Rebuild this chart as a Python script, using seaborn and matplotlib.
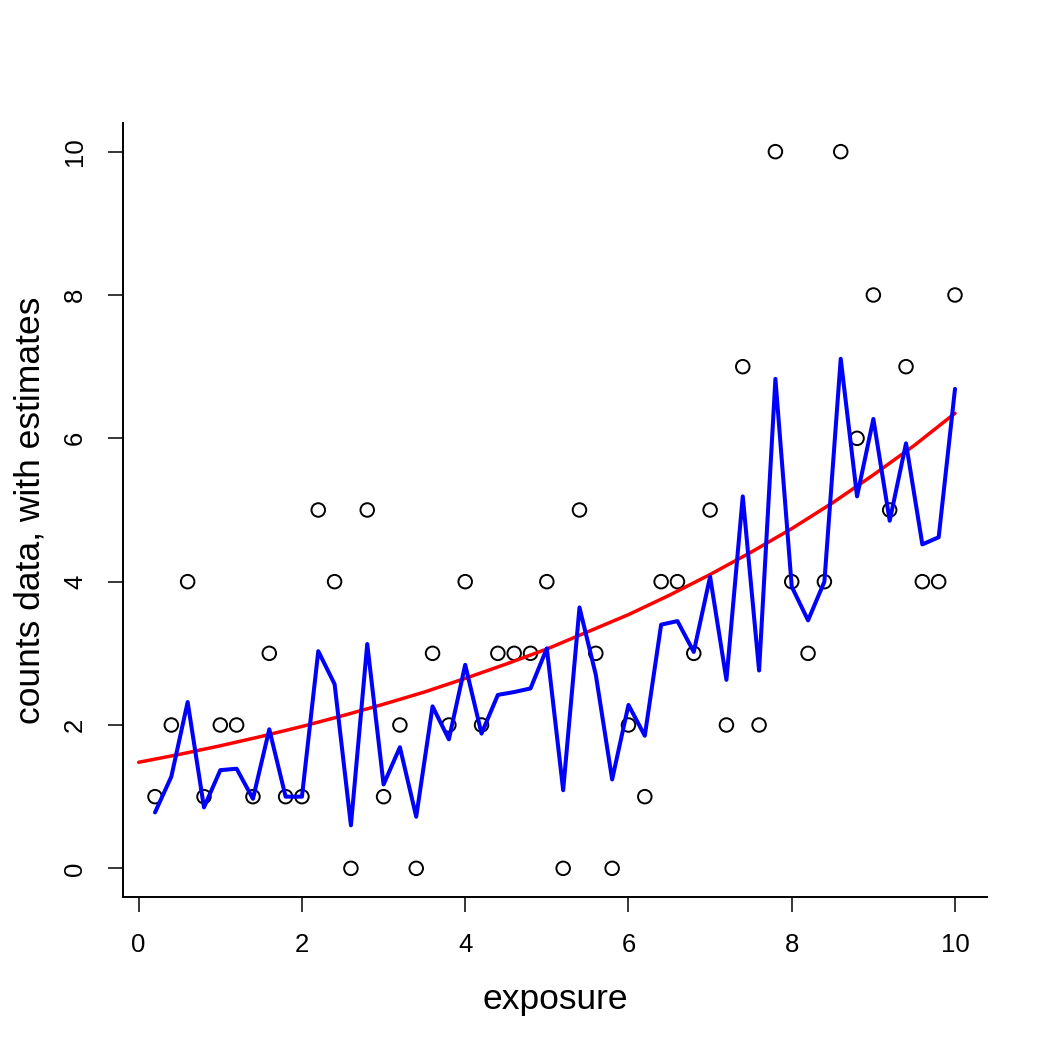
import numpy as np
import pandas as pd
import matplotlib
matplotlib.use("Agg")
import matplotlib.pyplot as plt
import seaborn as sns

# Observed counts against exposure
exposure = [0.2, 0.4, 0.6, 0.8, 1.0, 1.2, 1.4, 1.6, 1.8, 2.0,
            2.2, 2.4, 2.6, 2.8, 3.0, 3.2, 3.4, 3.6, 3.8, 4.0,
            4.2, 4.4, 4.6, 4.8, 5.0, 5.2, 5.4, 5.6, 5.8, 6.0,
            6.2, 6.4, 6.6, 6.8, 7.0, 7.2, 7.4, 7.6, 7.8, 8.0,
            8.2, 8.4, 8.6, 8.8, 9.0, 9.2, 9.4, 9.6, 9.8, 10.0]
counts = [1, 2, 4, 1, 2, 2, 1, 3, 1, 1,
          5, 4, 0, 5, 1, 2, 0, 3, 2, 4,
          2, 3, 3, 3, 4, 0, 5, 3, 0, 2,
          1, 4, 4, 3, 5, 2, 7, 2, 10, 4,
          3, 4, 10, 6, 8, 5, 7, 4, 4, 8]

# Per-observation estimates (blue)
estimates = [0.78, 1.28, 2.32, 0.85, 1.37, 1.39, 0.97, 1.94, 1.00, 1.00,
             3.03, 2.57, 0.60, 3.13, 1.17, 1.69, 0.72, 2.26, 1.80, 2.84,
             1.88, 2.42, 2.46, 2.51, 3.07, 1.09, 3.64, 2.70, 1.24, 2.28,
             1.85, 3.40, 3.45, 3.02, 4.07, 2.63, 5.19, 2.76, 6.83, 3.93,
             3.46, 4.00, 7.11, 5.19, 6.27, 4.85, 5.93, 4.52, 4.62, 6.69]

# Smooth trend (red)
trend_x = [0.0, 0.5, 1.0, 1.5, 2.0, 2.5, 3.0, 3.5, 4.0, 4.5, 5.0,
           5.5, 6.0, 6.5, 7.0, 7.5, 8.0, 8.5, 9.0, 9.5, 10.0]
trend_y = [1.48, 1.59, 1.71, 1.84, 1.98, 2.13, 2.29, 2.46, 2.65, 2.85, 3.06,
           3.30, 3.54, 3.81, 4.10, 4.41, 4.74, 5.10, 5.49, 5.90, 6.35]

df = pd.DataFrame({"exposure": exposure, "counts": counts, "est": estimates})
trend = pd.DataFrame({"x": trend_x, "y": trend_y})

sns.set_theme(style="ticks")
plt.rcParams["font.family"] = ["Liberation Sans", "DejaVu Sans"]

fig = plt.figure(figsize=(10.5, 10.5), dpi=100)
ax = fig.add_axes([123 / 1050, 153 / 1050, 864 / 1050, 774 / 1050])

sns.scatterplot(data=df, x="exposure", y="counts", ax=ax, s=95,
                facecolor="none", edgecolor="black", linewidth=1.4, zorder=2)
sns.lineplot(data=trend, x="x", y="y", ax=ax, color="#ff0000", lw=2.5,
             zorder=3, estimator=None)
sns.lineplot(data=df, x="exposure", y="est", ax=ax, color="#0000ff", lw=2.9,
             zorder=4, estimator=None)

ax.set_xlim(-0.192, 10.392)
ax.set_ylim(-0.4, 10.4)
ax.set_xticks([0, 2, 4, 6, 8, 10])
ax.set_yticks([0, 2, 4, 6, 8, 10])
ax.tick_params(axis="both", direction="out", length=10.8, width=1.1,
               labelsize=18.5, pad=15, color="black", labelcolor="black")
for lab in ax.get_yticklabels():
    lab.set_rotation(90)
    lab.set_va("center")

ax.set_xlabel("exposure", fontsize=25.5, color="black")
ax.set_ylabel("counts data, with estimates", fontsize=25.5, color="black")
ax.xaxis.label.set_va("center")
ax.yaxis.label.set_va("center")
ax.xaxis.set_label_coords(0.5, (897 - 1000) / 774)
ax.yaxis.set_label_coords((30 - 123) / 864, 0.5)

sns.despine(ax=ax)
for side in ["left", "bottom"]:
    ax.spines[side].set_linewidth(1.4)
    ax.spines[side].set_color("black")

fig.savefig("out.png", dpi=100)
